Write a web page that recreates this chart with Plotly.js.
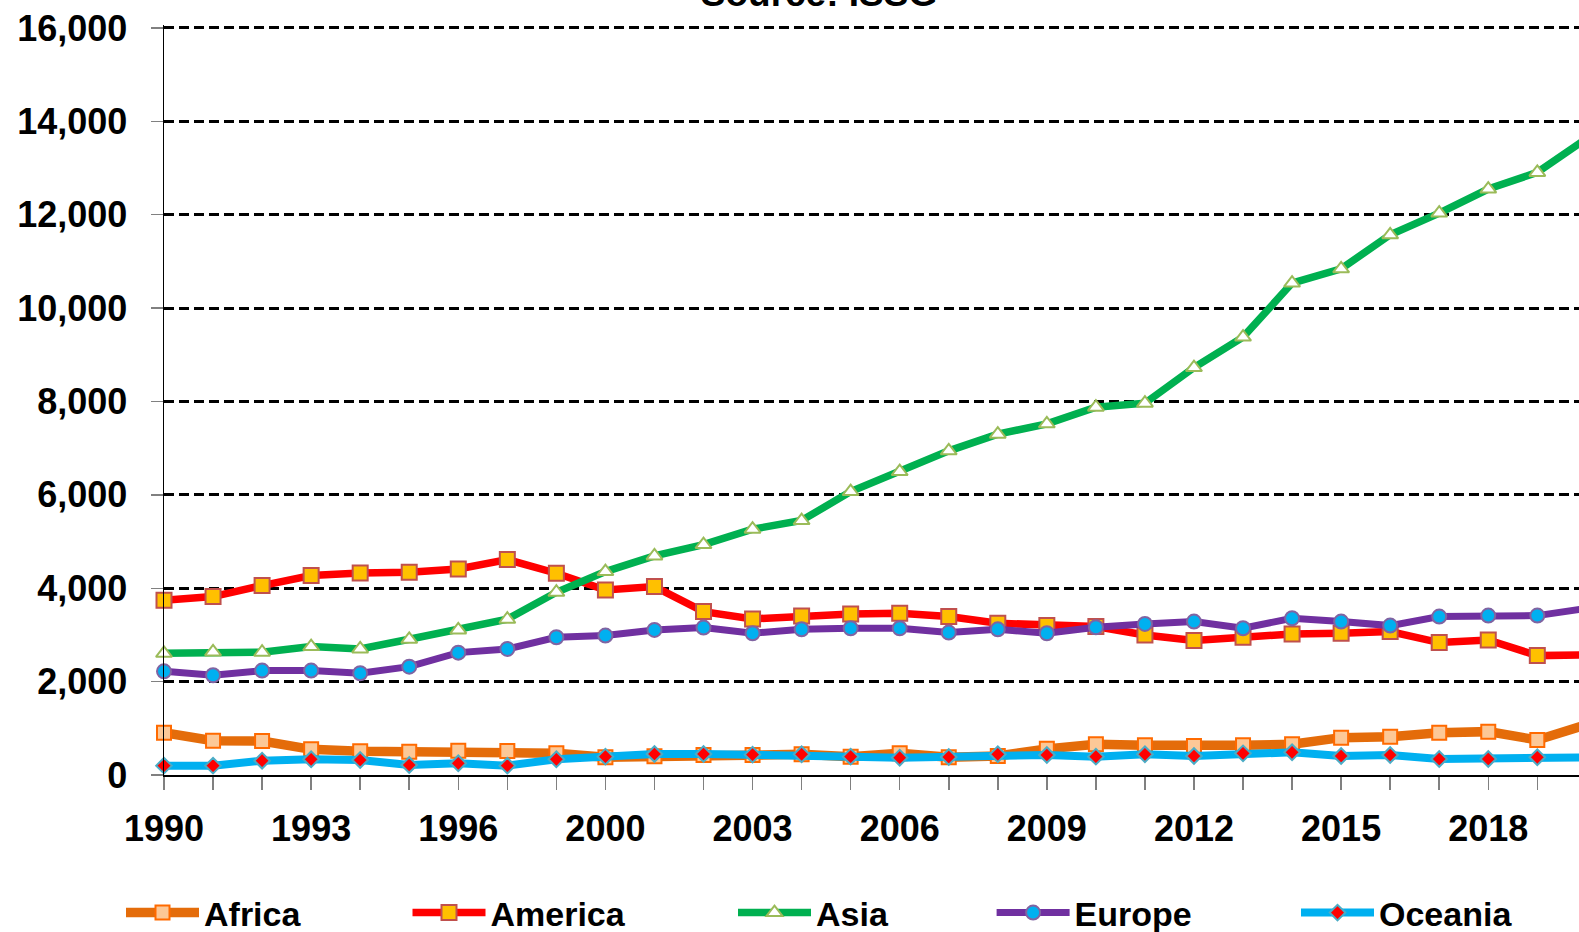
<!DOCTYPE html>
<html>
<head>
<meta charset="utf-8">
<script src="https://cdn.plot.ly/plotly-3.0.1.min.js"></script>
<style>html,body{margin:0;padding:0;background:#fff;}#chart{width:1579px;height:932px;}</style>
</head>
<body>
<div id="chart"></div>
<script>
const years = ['1990','1991','1992','1993','1994','1995','1996','1997','1998','2000','2001','2002','2003','2004','2005','2006','2007','2008','2009','2010','2011','2012','2013','2014','2015','2016','2017','2018','2019','2020'];
const africa  = [907, 736, 729, 550, 507, 500, 521, 514, 464, 379, 400, 429, 429, 443, 393, 464, 379, 407, 560, 657, 636, 621, 636, 657, 800, 821, 907, 929, 750, 1075];
const america = [3743, 3821, 4057, 4271, 4329, 4343, 4414, 4614, 4321, 3964, 4036, 3500, 3343, 3407, 3450, 3464, 3393, 3250, 3200, 3179, 3000, 2879, 2950, 3021, 3036, 3071, 2836, 2893, 2557, 2570];
const asia    = [2607, 2636, 2629, 2750, 2700, 2907, 3107, 3336, 3914, 4357, 4693, 4935, 5264, 5450, 6071, 6500, 6943, 7300, 7521, 7879, 7964, 8727, 9379, 10536, 10842, 11571, 12036, 12550, 12907, 13630];
const europe  = [2221, 2136, 2236, 2236, 2179, 2321, 2621, 2700, 2950, 2986, 3107, 3157, 3036, 3121, 3143, 3143, 3050, 3121, 3036, 3164, 3236, 3286, 3143, 3357, 3286, 3200, 3393, 3414, 3414, 3570];
const oceania = [200, 200, 307, 336, 321, 214, 250, 200, 336, 393, 450, 450, 436, 443, 393, 371, 386, 443, 429, 393, 443, 407, 464, 486, 407, 429, 343, 343, 379, 379];
const xTickLabels = years.map((y, i) => (i % 3 === 0 ? y : ''));
const yTickVals = [0, 2000, 4000, 6000, 8000, 10000, 12000, 14000, 16000];

const FONT = '"Liberation Sans", Arial, sans-serif';
const W = 1579, H = 932;

function tr(name, y, lineColor, lineWidth, symbol, mSize, fill, border, legendId) {
  return {
    type: 'scatter', mode: 'lines+markers', name: name, x: years, y: y,
    line: {color: lineColor, width: lineWidth},
    marker: {symbol: symbol, size: mSize, color: fill, line: {color: border, width: 2}},
    cliponaxis: false, legend: legendId
  };
}

const data = [
  tr('Africa', africa, '#E46C0A', 9.5, 'square', 14, '#FCC897', '#FF6A00', 'legend'),
  tr('America', america, '#FF0000', 7.5, 'square', 15, '#FFC000', '#C0504D', 'legend2'),
  tr('Asia', asia, '#00B050', 7.5, 'triangle-up', 14, '#FFFFFF', '#9BBB59', 'legend3'),
  tr('Europe', europe, '#7030A0', 7, 'circle', 14, '#00B0F0', '#8064A2', 'legend4'),
  tr('Oceania', oceania, '#00B0F0', 8, 'diamond', 12, '#FF0000', '#4BACC6', 'legend5')
];

function leg(px) {
  return {
    orientation: 'h', xref: 'container', yref: 'container',
    x: px / W, xanchor: 'left', y: 1 - 913 / H, yanchor: 'middle',
    font: {family: FONT, size: 34, color: '#000', weight: 'bold'},
    bgcolor: 'rgba(0,0,0,0)', borderwidth: 0, itemwidth: 73
  };
}

const layout = {
  width: W, height: H,
  margin: {l: 164, r: 0, t: 25, b: 157, pad: 0},
  paper_bgcolor: '#fff', plot_bgcolor: '#fff',
  font: {family: FONT, color: '#000'},
  title: {
    text: 'Source: ISSG', xref: 'container', yref: 'container',
    x: 819 / W, xanchor: 'center', y: 1 - 6 / H, yanchor: 'bottom',
    font: {family: FONT, size: 37, color: '#000', weight: 'bold'}
  },
  xaxis: {
    type: 'category', range: [0, 28.85],
    tickmode: 'array', tickvals: years, ticktext: xTickLabels,
    showline: true, linecolor: '#000', linewidth: 1.5,
    ticks: 'outside', ticklen: 13, tickcolor: '#808080', tickwidth: 1.5,
    showgrid: false, zeroline: false,
    tickfont: {family: FONT, size: 36, color: '#000', weight: 'bold'},
    ticklabelstandoff: 8, tickangle: 0, fixedrange: true
  },
  yaxis: {
    range: [0, 16064], tickmode: 'array', tickvals: yTickVals,
    tickformat: ',d',
    showline: true, linecolor: '#000', linewidth: 1.5,
    ticks: 'outside', ticklen: 12, tickcolor: '#808080', tickwidth: 1.5,
    showgrid: true, gridcolor: '#000', gridwidth: 3, griddash: '10px,5px',
    zeroline: false,
    tickfont: {family: FONT, size: 36, color: '#000', weight: 'bold'},
    ticklabelstandoff: 16, fixedrange: true
  },
  showlegend: true,
  legend: leg(121),
  legend2: leg(407.5),
  legend3: leg(733),
  legend4: leg(991.6),
  legend5: leg(1296)
};

Plotly.newPlot('chart', data, layout, {displayModeBar: false, staticPlot: true});
</script>
</body>
</html>
